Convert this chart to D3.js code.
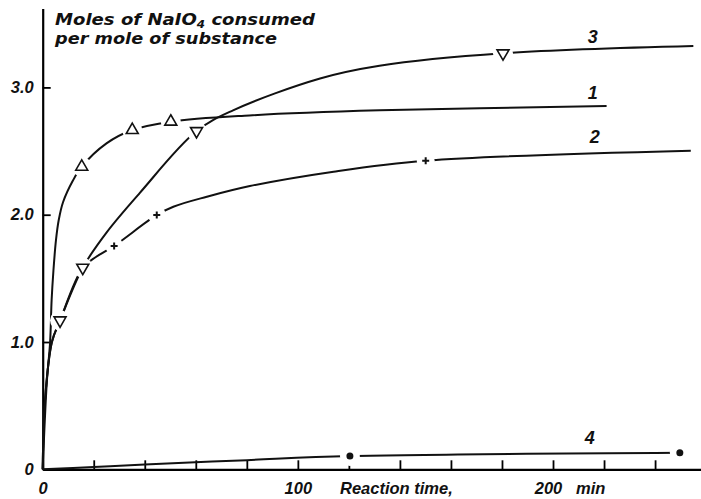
<!DOCTYPE html>
<head>
	<meta charset="utf-8">
	<script src="https://d3js.org/d3.v7.min.js"></script>
	<style>
		body { margin: 0; background: #fff; }
		text { font-family: "Liberation Sans", Arial, sans-serif; font-style: italic; font-weight: bold; fill: #111; }
		text.title { font-family: "DejaVu Sans", sans-serif; }
	</style>
</head>
<body>
	<svg id="chart" width="701" height="499"></svg>
	<script>

	// reaction time (min) / moles of NaIO4 per mole of substance
	var curve1_t = [0, 1.6, 2.9, 3.5, 4.2, 5.2, 6.3, 8, 11.9, 15.3, 25, 35.1, 50.2, 81, 132, 221];
	var curve1_v = [0, 0.68, 1.0, 1.33, 1.56, 1.8, 1.96, 2.1, 2.27, 2.377, 2.56, 2.665, 2.731, 2.78, 2.82, 2.854];
	var curve1_marks = [15.3, 35.1, 50.2];

	var curve2_t = [0, 0.9, 3.6, 6.8, 15.7, 21, 28, 44.7, 51.2, 64.3, 81.2, 114, 150.1, 254];
	var curve2_v = [0, 0.54, 1.0, 1.17, 1.584, 1.67, 1.755, 1.998, 2.063, 2.141, 2.225, 2.338, 2.424, 2.503];
	var curve2_marks = [28, 44.7, 150.1];

	var curve3_t = [0, 0.9, 3.6, 6.8, 15.7, 25, 38, 60.3, 74.6, 108.7, 132, 180.4, 255];
	var curve3_v = [0, 0.54, 1.0, 1.17, 1.584, 1.86, 2.17, 2.657, 2.82, 3.07, 3.17, 3.268, 3.325];
	var curve3_marks = [6.8, 15.7, 60.3, 180.4];

	var curve4_t = [0, 20, 40, 80, 120.4, 249.7];
	var curve4_v = [0, 0.018, 0.037, 0.072, 0.104, 0.13];
	var curve4_marks = [120.4, 249.7];

	var curveNames = ["1", "2", "3", "4"];
	var labelPos = [[215.6, 2.96], [216.4, 2.61], [215.6, 3.395], [214.4, 0.246]];

	var xTicks = d3.range(0, 241, 20);
	var xTickLabels = {0: "0", 100: "100", 200: "200"};
	var yTicks = [0, 1, 2, 3];
	var yTickLabels = ["0", "1.0", "2.0", "3.0"];

	var svg = d3.select("#chart");

	var x = d3.scaleLinear().domain([0, 258]).range([42.7, 701]);
	var y = d3.scaleLinear().domain([0, 3.62]).range([469.3, 8.5]);

	// axes
	svg.append("g")
		.attr("transform", "translate(0," + y(0) + ")")
		.call(d3.axisBottom(x).tickValues(xTicks).tickSize(-9).tickSizeOuter(0).tickPadding(13)
			.tickFormat(function(d) { return xTickLabels[d] || ""; }))
		.call(function(g) {
			g.select(".domain").attr("stroke-width", 2.2);
			g.selectAll(".tick line").attr("stroke-width", 1.8);
			g.selectAll(".tick text").style("font-size", "16.5px").attr("fill", "#111")
				.attr("dx", function(d) { return d === 200 ? "-5" : "0"; });
		});

	svg.append("g")
		.attr("transform", "translate(" + x(0) + ",0)")
		.call(d3.axisLeft(y).tickValues(yTicks).tickSize(-8).tickSizeOuter(0).tickPadding(9)
			.tickFormat(function(d, i) { return yTickLabels[i]; }))
		.call(function(g) {
			g.select(".domain").attr("stroke-width", 2.2);
			g.selectAll(".tick line").attr("stroke-width", 1.8);
			g.selectAll(".tick text").style("font-size", "16.5px").attr("fill", "#111");
		});

	svg.append("text").attr("x", 340).attr("y", 494).style("font-size", "16.5px").text("Reaction time,");
	svg.append("text").attr("x", 576).attr("y", 494).style("font-size", "16.5px").text("min");

	// y axis title
	var title = svg.append("text").attr("class", "title").attr("x", 55).attr("y", 25)
		.attr("textLength", 260).attr("lengthAdjust", "spacingAndGlyphs").style("font-size", "16px");
	title.append("tspan").text("Moles of NaIO");
	title.append("tspan").attr("dy", 2.5).style("font-size", "10.5px").text("4");
	title.append("tspan").attr("dy", -2.5).text(" consumed");
	svg.append("text").attr("class", "title").attr("x", 55).attr("y", 44)
		.attr("textLength", 222).attr("lengthAdjust", "spacingAndGlyphs")
		.style("font-size", "16px").text("per mole of substance");

	// curves
	var series = [
		{t: curve1_t, v: curve1_v, marks: curve1_marks, sym: "up"},
		{t: curve2_t, v: curve2_v, marks: curve2_marks, sym: "plus"},
		{t: curve3_t, v: curve3_v, marks: curve3_marks, sym: "down"},
		{t: curve4_t, v: curve4_v, marks: curve4_marks, sym: "dot"}
	];

	var line = d3.line()
		.x(function(d) { return x(d[0]); })
		.y(function(d) { return y(d[1]); })
		.curve(d3.curveCatmullRom.alpha(0.5));

	function valueAt(s, t) {
		var i = s.t.indexOf(t);
		return s.v[i];
	}

	series.forEach(function(s) {
		svg.append("path")
			.datum(d3.zip(s.t, s.v))
			.attr("d", line)
			.attr("fill", "none")
			.attr("stroke", "#111")
			.attr("stroke-width", 2);
	});

	// white gaps around the markers
	series.forEach(function(s) {
		svg.append("g").selectAll("circle")
			.data(s.marks)
			.enter()
			.append("circle")
			.attr("cx", function(d) { return x(d); })
			.attr("cy", function(d) { return y(valueAt(s, d)); })
			.attr("r", s.sym === "plus" ? 9 : 10)
			.attr("fill", "#fff");
	});

	var tri = d3.symbol().type(d3.symbolTriangle).size(62);
	series.forEach(function(s) {
		var g = svg.append("g").selectAll("g")
			.data(s.marks)
			.enter()
			.append("g")
			.attr("transform", function(d) { return "translate(" + x(d) + "," + y(valueAt(s, d)) + ")"; });
		if (s.sym === "up" || s.sym === "down") {
			g.append("path")
				.attr("d", tri)
				.attr("transform", s.sym === "down" ? "rotate(180)" : null)
				.attr("fill", "#fff")
				.attr("stroke", "#111")
				.attr("stroke-width", 1.6);
		} else if (s.sym === "plus") {
			g.append("path")
				.attr("d", "M-3.5,0H3.5M0,-3.5V3.5")
				.attr("stroke", "#111")
				.attr("stroke-width", 2);
		} else {
			g.append("circle").attr("r", 3.5).attr("fill", "#111");
		}
	});

	// curve numbers
	svg.append("g").selectAll("text")
		.data(curveNames)
		.enter()
		.append("text")
		.attr("x", function(d, i) { return x(labelPos[i][0]); })
		.attr("y", function(d, i) { return y(labelPos[i][1]); })
		.attr("text-anchor", "middle")
		.attr("dy", "0.35em")
		.style("font-size", "18px")
		.text(function(d) { return d; });

	</script>
</body>
</html>
